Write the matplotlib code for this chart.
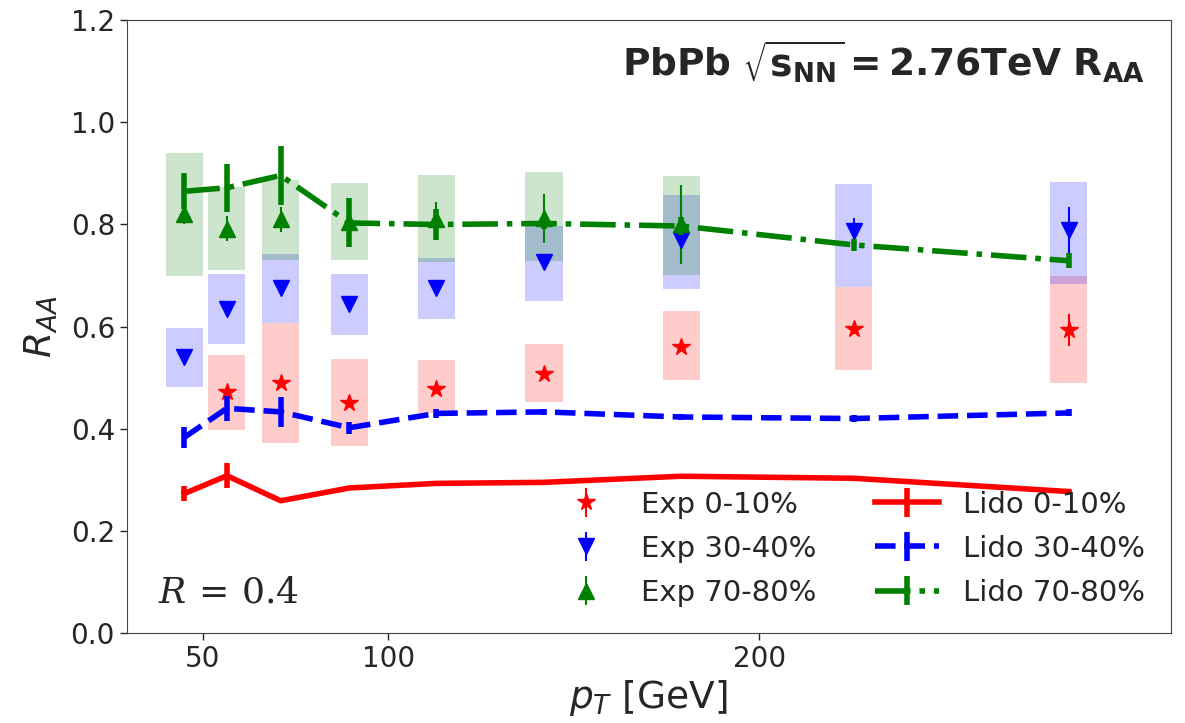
import matplotlib
matplotlib.use("Agg")
import matplotlib.pyplot as plt
import numpy as np

# jet pT bin centres (GeV)
pt = [45, 56.5, 71, 89.5, 113, 142, 179, 225.5, 283.5]
box_w = 10

# Exp 0-10% (no first bin)
exp0_pt = [56.5, 71, 89.5, 113, 142, 179, 225.5, 283.5]
exp0_val = [0.471, 0.490, 0.451, 0.477, 0.508, 0.561, 0.596, 0.593]
exp0_err = [0.008, 0.008, 0.008, 0.008, 0.008, 0.008, 0.010, 0.031]
exp0_lo = [0.398, 0.373, 0.366, 0.430, 0.452, 0.495, 0.516, 0.490]
exp0_hi = [0.544, 0.607, 0.537, 0.534, 0.565, 0.630, 0.677, 0.699]

# Exp 30-40%
exp30_val = [0.541, 0.635, 0.675, 0.645, 0.675, 0.727, 0.769, 0.787, 0.790]
exp30_err = [0.006, 0.006, 0.006, 0.006, 0.006, 0.006, 0.008, 0.025, 0.045]
exp30_lo = [0.481, 0.565, 0.607, 0.584, 0.614, 0.650, 0.674, 0.677, 0.683]
exp30_hi = [0.598, 0.704, 0.742, 0.704, 0.734, 0.798, 0.857, 0.879, 0.884]

# Exp 70-80% (up to 179 GeV)
exp70_pt = [45, 56.5, 71, 89.5, 113, 142, 179]
exp70_val = [0.820, 0.792, 0.810, 0.805, 0.810, 0.812, 0.800]
exp70_err = [0.020, 0.025, 0.025, 0.020, 0.035, 0.048, 0.078]
exp70_lo = [0.700, 0.710, 0.731, 0.730, 0.727, 0.729, 0.702]
exp70_hi = [0.940, 0.873, 0.887, 0.882, 0.896, 0.903, 0.894]

# Lido calculations
lido0_val = [0.273, 0.308, 0.259, 0.284, 0.293, 0.295, 0.307, 0.303, 0.277]
lido0_err = [0.014, 0.024, 0.003, 0.004, 0.004, 0.004, 0.005, 0.005, 0.004]
lido30_val = [0.383, 0.440, 0.433, 0.402, 0.430, 0.433, 0.423, 0.420, 0.431]
lido30_err = [0.020, 0.025, 0.030, 0.012, 0.008, 0.006, 0.005, 0.006, 0.007]
lido70_val = [0.865, 0.872, 0.896, 0.803, 0.800, 0.802, 0.797, 0.760, 0.729]
lido70_err = [0.035, 0.047, 0.057, 0.048, 0.030, 0.010, 0.018, 0.011, 0.015]

txt = '#262626'
plt.rcParams['axes.edgecolor'] = '#444444'
plt.rcParams['xtick.color'] = txt
plt.rcParams['ytick.color'] = txt
plt.rcParams['axes.labelcolor'] = txt
plt.rcParams['text.color'] = txt

fig = plt.figure(figsize=(11.85, 7.23), dpi=100)
ax = fig.add_axes([0.107, 0.1245, 0.881, 0.8475])


def draw_boxes(xs, lo, hi, color):
    for x, l, h in zip(xs, lo, hi):
        ax.bar(x, h - l, bottom=l, width=box_w, color=color, alpha=0.2,
               linewidth=0, zorder=1)


draw_boxes(exp0_pt, exp0_lo, exp0_hi, 'red')
draw_boxes(pt, exp30_lo, exp30_hi, 'blue')
draw_boxes(exp70_pt, exp70_lo, exp70_hi, 'green')

h1 = ax.errorbar(exp0_pt, exp0_val, yerr=exp0_err, fmt='*', color='red',
                 ms=13, elinewidth=1.5, zorder=3, label='Exp 0-10%')
h2 = ax.errorbar(pt, exp30_val, yerr=exp30_err, fmt='v', color='blue',
                 ms=12, elinewidth=1.5, zorder=3, label='Exp 30-40%')
h3 = ax.errorbar(exp70_pt, exp70_val, yerr=exp70_err, fmt='^', color='green',
                 ms=12, elinewidth=1.5, zorder=3, label='Exp 70-80%')

h4 = ax.errorbar(pt, lido0_val, yerr=lido0_err, fmt='-', color='red',
                 lw=4, elinewidth=4, zorder=4, label='Lido 0-10%')
h5 = ax.errorbar(pt, lido30_val, yerr=lido30_err, fmt='--', color='blue',
                 lw=4, elinewidth=4, zorder=4, label='Lido 30-40%')
h6 = ax.errorbar(pt, lido70_val, yerr=lido70_err, fmt='-.', color='green',
                 lw=4, elinewidth=4, zorder=4, label='Lido 70-80%')

ax.set_xlim(29.5, 311)
ax.set_ylim(0, 1.2)
ax.set_xticks([50, 100, 200])
ax.set_yticks(np.arange(0, 1.21, 0.2))
ax.tick_params(labelsize=20, length=5, width=1)
ax.set_xlabel(r'$p_T$ [GeV]', fontsize=27)
ax.set_ylabel(r'$R_{AA}$', fontsize=27, labelpad=8)

ax.text(0.975, 0.97,
        r'$\mathbf{PbPb}\ \sqrt{\mathbf{s_{NN}}}\mathbf{=2.76TeV\ R_{AA}}$',
        transform=ax.transAxes, ha='right', va='top', fontsize=27)
ax.text(0.03, 0.05, r'$R\,=\,0.4$', transform=ax.transAxes, fontsize=26,
        math_fontfamily='dejavuserif')

ax.legend(handles=[h1, h2, h3, h4, h5, h6], loc='lower right', ncol=2,
          frameon=False, fontsize=21, columnspacing=2.0, labelspacing=0.55,
          handlelength=2.2)

fig.savefig('out.png', dpi=100)
